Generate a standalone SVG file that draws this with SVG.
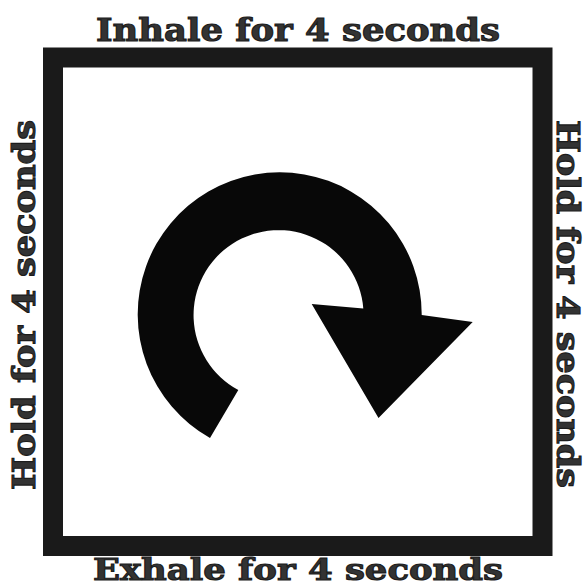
<svg xmlns="http://www.w3.org/2000/svg" width="586" height="588" viewBox="0 0 586 588">
  <style>
    .lbl { font-family: "DejaVu Serif", "Liberation Serif", serif; font-weight: bold; font-size: 32px; fill: #333333; stroke: #1c1c1c; stroke-width: 1.1px; }
    .lbl-bottom { font-size: 30px; }
  </style>
  <rect x="0" y="0" width="586" height="588" fill="#ffffff"/>
  <g id="frame">
    <rect x="53" y="57.5" width="489.5" height="488.5" fill="#ffffff" stroke="#1a1a1a" stroke-width="20"/>
  </g>
  <g id="cycle-arrow">
    <path d="M 210 438 A 142 142 0 1 1 421.7 315 L 472.7 322 L 378.5 418 L 311.7 304 L 363.3 308.5 A 85 85 0 1 0 238.3 390 Z" fill="#080808"/>
  </g>
  <g id="label-top">
    <text class="lbl" x="96" y="41" textLength="404" lengthAdjust="spacingAndGlyphs">Inhale for 4 seconds</text>
  </g>
  <g id="label-bottom">
    <text class="lbl lbl-bottom" x="93" y="580" textLength="410" lengthAdjust="spacingAndGlyphs">Exhale for 4 seconds</text>
  </g>
  <g id="label-left">
    <text class="lbl" transform="translate(35,490) rotate(-90)" x="0" y="0" textLength="370" lengthAdjust="spacingAndGlyphs">Hold for 4 seconds</text>
  </g>
  <g id="label-right">
    <text class="lbl" transform="translate(557,120) rotate(90)" x="0" y="0" textLength="368" lengthAdjust="spacingAndGlyphs">Hold for 4 seconds</text>
  </g>
</svg>
